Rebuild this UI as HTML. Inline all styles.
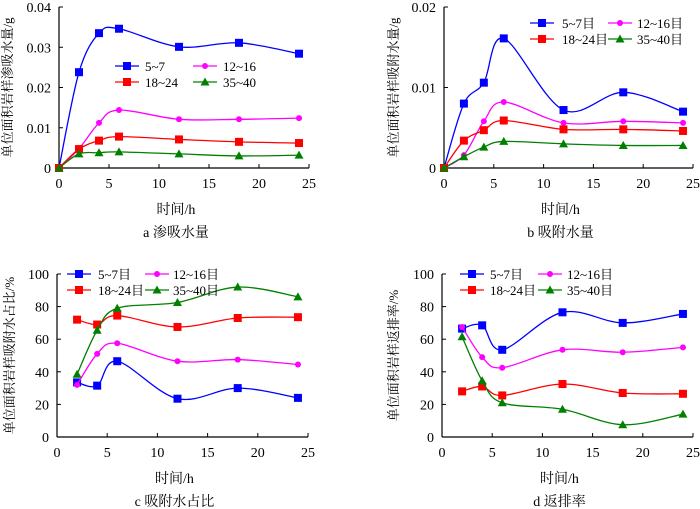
<!DOCTYPE html>
<html><head><meta charset="utf-8"><style>
html,body{margin:0;padding:0;background:#fff;}
svg{display:block;font-family:"Liberation Serif","Noto Serif CJK SC",serif;}
</style></head><body>
<svg id="c" width="700" height="509" viewBox="0 0 700 509"></svg>
<script>
const xsAB = [0,2,4,6,12,18,24];
const xsCD = [2,4,6,12,18,24];
const aS1 = [0,0.0238,0.0335,0.0346,0.0301,0.0311,0.0284];
const aS2 = [0,0.0048,0.0112,0.0144,0.0121,0.0121,0.0124];
const aS3 = [0,0.0047,0.0068,0.0078,0.0071,0.0065,0.0062];
const aS4 = [0,0.0035,0.0038,0.0040,0.0035,0.0030,0.0032];
const bS1 = [0,0.0080,0.0106,0.0161,0.0072,0.0094,0.0070];
const bS2 = [0,0.0016,0.0058,0.0082,0.0056,0.0058,0.0056];
const bS3 = [0,0.0034,0.0047,0.0059,0.0048,0.0048,0.0046];
const bS4 = [0,0.0014,0.0026,0.0033,0.0030,0.0028,0.0028];
const cS1 = [33.5,31.5,46.5,23.5,30,24];
const cS2 = [32,51,57.5,46.5,47.5,44.5];
const cS3 = [72,69,74.5,67.5,73,73.5];
const cS4 = [38.5,65.5,79,82.5,92,86];
const dS1 = [66.5,68.5,53.5,76.5,70,75.5];
const dS2 = [67.5,49,42.5,53.5,52,55];
const dS3 = [28,31,25.5,32.5,27,26.5];
const dS4 = [61.5,34.5,21,17,7.5,14];
const xTicks = [0,5,10,15,20,25];
const yTicksA = ["0","0.01","0.02","0.03","0.04"];
const yTicksB = ["0","0.01","0.02"];
const yTicksCD = ["0","20","40","60","80","100"];
const namesA = ["5~7","12~16","18~24","35~40"];
const namesB = ["5~7目","12~16目","18~24目","35~40目"];

const NS="http://www.w3.org/2000/svg";
const svg=document.getElementById('c');
function mk(tag,attrs,parent,name){const e=document.createElementNS(NS,tag);for(const k in attrs)e.setAttribute(k,attrs[k]);


(parent||svg).appendChild(e);return e;}
const colors=["#0000ff","#ff00ff","#ff0000","#008000"];
const markers=["sq","dia","sq","tri"];
function marker(g,t,x,y,col){
 if(t=="sq") mk('rect',{x:x-4,y:y-4,width:8,height:8,fill:col},g,'marker-square');
 else if(t=="dia") mk('circle',{cx:x,cy:y,r:3,fill:col},g,'marker-dot');
 else mk('polygon',{points:`${x},${y-4.5} ${x+4.5},${y+3.5} ${x-4.5},${y+3.5}`,fill:col},g,'marker-triangle');
}
function smooth(p){let d=`M${p[0][0]},${p[0][1]}`;for(let i=0;i<p.length-1;i++){const p0=p[i-1]||p[i],p1=p[i],p2=p[i+1],p3=p[i+2]||p2;
 const c1=[p1[0]+(p2[0]-p0[0])/6,p1[1]+(p2[1]-p0[1])/6],c2=[p2[0]-(p3[0]-p1[0])/6,p2[1]-(p3[1]-p1[1])/6];
 d+=` C${c1[0]},${c1[1]} ${c2[0]},${c2[1]} ${p2[0]},${p2[1]}`;}return d;}
function panel(o){
 const g=mk('g',{},svg,o.name);
 const sx=v=>o.x0+(o.x1-o.x0)*v/25, sy=v=>o.yb+(o.yt-o.yb)*v/o.ymax;
 mk('line',{x1:o.x0,y1:o.yt,x2:o.x0,y2:o.yb,stroke:'#000','stroke-width':1.2},g,'y-axis');
 mk('line',{x1:o.x0,y1:o.yb,x2:o.x1,y2:o.yb,stroke:'#000','stroke-width':1.2},g,'x-axis');
 xTicks.forEach(t=>{const x=sx(t);mk('line',{x1:x,y1:o.yb,x2:x,y2:o.yb-4,stroke:'#000'},g,'x-tick');
  const tx=mk('text',{x:x,y:o.yb+20,'text-anchor':'middle','font-size':14},g,'x-tick-label');tx.textContent=t;});
 o.yt_labels.forEach((l,i)=>{const v=o.ymax*i/(o.yt_labels.length-1),y=sy(v);
  mk('line',{x1:o.x0,y1:y,x2:o.x0+4,y2:y,stroke:'#000'},g,'y-tick');
  const tx=mk('text',{x:o.x0-8,y:y+5,'text-anchor':'end','font-size':14},g,'y-tick-label');tx.textContent=l;});
 const xt=mk('text',{x:(o.x0+o.x1)/2-8,y:o.yb+46,'text-anchor':'middle','font-size':14},g,'x-axis-title');xt.textContent="时间/h";
 const cp=mk('text',{x:(o.x0+o.x1)/2-8,y:o.yb+69,'text-anchor':'middle','font-size':14,'xml:space':'preserve'},g,'caption');cp.textContent=o.cap;
 const yl=mk('text',{x:0,y:0,'text-anchor':'middle','font-size':13,transform:`translate(${o.ylx},${(o.yt+o.yb)/2}) rotate(-90)`},g,'y-axis-title');yl.textContent=o.ytitle;
 o.series.forEach((s,i)=>{const pts=o.xs.map((x,j)=>[sx(x),sy(s[j])]);
  const sg=mk('g',{},g,'series-'+o.names[i]);
  mk('path',{d:smooth(pts),fill:'none',stroke:colors[i],'stroke-width':1.3},sg,'series-line');
  pts.forEach(p=>marker(sg,markers[i],p[0],p[1],colors[i]));});
 o.names.forEach((n,i)=>{const lx=o.lg[i%2][0],ly=o.lg2[Math.floor(i/2)];
  const lg=mk('g',{},g,'legend-entry');
  mk('line',{x1:lx,y1:ly,x2:lx+24,y2:ly,stroke:colors[i],'stroke-width':1.3},lg,'legend-line');
  marker(lg,markers[i],lx+12,ly,colors[i]);
  const t=mk('text',{x:o.lg[i%2][1],y:ly+5,'font-size':13},lg,'legend-label');t.textContent=n;});
}
panel({name:'panel-a',x0:59,x1:309,yt:7,yb:168,ymax:0.04,yt_labels:yTicksA,xs:xsAB,series:[aS1,aS2,aS3,aS4],names:namesA,cap:"a  渗吸水量",ytitle:"单位面积岩样渗吸水量/g",ylx:12,lg:[[115,145],[193,223]],lg2:[66,82]});
panel({name:'panel-b',x0:444,x1:693,yt:7,yb:168,ymax:0.02,yt_labels:yTicksB,xs:xsAB,series:[bS1,bS2,bS3,bS4],names:namesB,cap:"b  吸附水量",ytitle:"单位面积岩样吸附水量/g",ylx:398,lg:[[530,562],[608,637]],lg2:[23,39]});
panel({name:'panel-c',x0:57,x1:308,yt:274,yb:437,ymax:100,yt_labels:yTicksCD,xs:xsCD,series:[cS1,cS2,cS3,cS4],names:namesB,cap:"c  吸附水占比",ytitle:"单位面积岩样吸附水占比/%",ylx:14,lg:[[67,98],[145,173]],lg2:[274,290]});
panel({name:'panel-d',x0:442,x1:693,yt:274,yb:437,ymax:100,yt_labels:yTicksCD,xs:xsCD,series:[dS1,dS2,dS3,dS4],names:namesB,cap:"d  返排率",ytitle:"单位面积岩样返排率/%",ylx:398,lg:[[460,490],[538,567]],lg2:[274,290]});
</script>
</body></html>
